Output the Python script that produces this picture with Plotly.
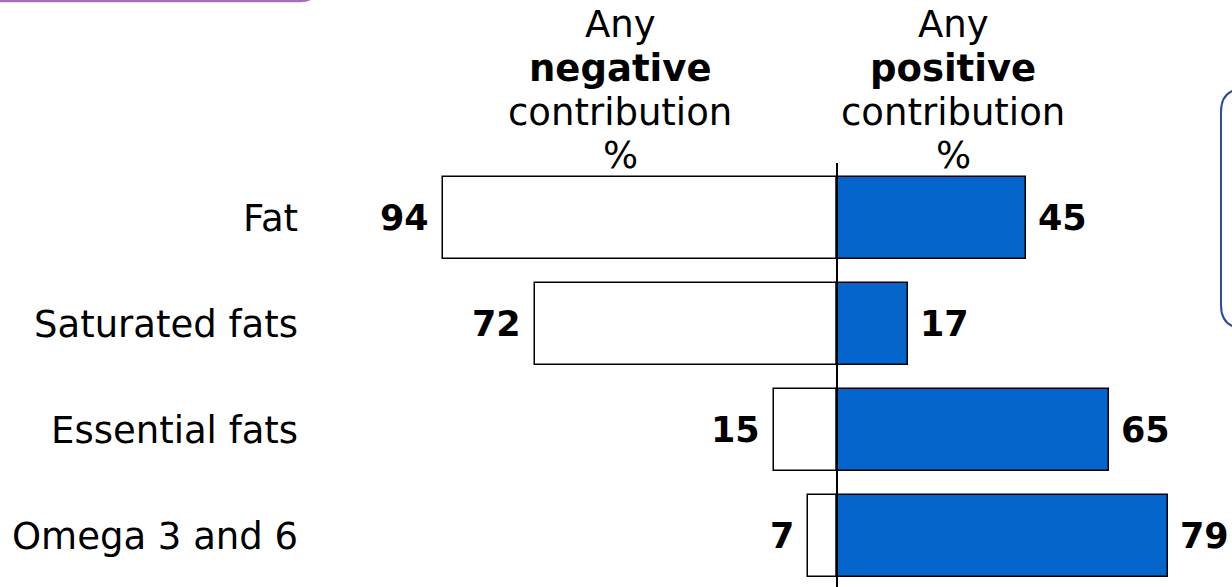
import plotly.graph_objects as go

categories = ["Fat", "Saturated fats", "Essential fats", "Omega 3 and 6"]
negative = [94, 72, 15, 7]
positive = [45, 17, 65, 79]
header_neg = ["Any", "<b>negative</b>", "contribution", "%"]
header_pos = ["Any", "<b>positive</b>", "contribution", "%"]

W, H = 1232, 587
FONT = "DejaVu Sans"

fig = go.Figure()
fig.add_trace(go.Bar(
    y=categories, x=[-v for v in negative], orientation="h",
    marker=dict(color="white", line=dict(color="black", width=1.5)),
    width=0.774, hoverinfo="skip", showlegend=False))
fig.add_trace(go.Bar(
    y=categories, x=positive, orientation="h",
    marker=dict(color="#0466CC", line=dict(color="black", width=1.5)),
    width=0.774, hoverinfo="skip", showlegend=False))

ann = []
for c, n, p in zip(categories, negative, positive):
    ann.append(dict(x=-n, y=c, xref="x", yref="y", text=f"<b>{n}</b>",
                    xanchor="right", yanchor="middle", xshift=-12, showarrow=False,
                    font=dict(family=FONT, size=35, color="black")))
    ann.append(dict(x=p, y=c, xref="x", yref="y", text=f"<b>{p}</b>",
                    xanchor="left", yanchor="middle", xshift=10, showarrow=False,
                    font=dict(family=FONT, size=35, color="black")))
    ann.append(dict(x=300 / W, y=c, xref="paper", yref="y", text=c,
                    xanchor="right", yanchor="middle", showarrow=False,
                    font=dict(family=FONT, size=37, color="black")))

HFS = 37
baselines = [37, 81, 125, 168]
for xc, lines in [(620, header_neg), (953, header_pos)]:
    for txt, bl in zip(lines, baselines):
        top = bl - HFS + 1
        ann.append(dict(x=xc / W, y=1 - top / H, xref="paper", yref="paper", text=txt,
                        xanchor="center", yanchor="top", showarrow=False,
                        font=dict(family=FONT, size=HFS, color="black")))

def px(x, y):
    return f"{x / W:.5f} {1 - y / H:.5f}"

shapes = [
    dict(type="line", xref="x", yref="paper", x0=0, x1=0, y0=0, y1=1 - 163 / H,
         line=dict(color="black", width=2), layer="above"),
    dict(type="path", xref="paper", yref="paper",
         path=f"M {px(-10, 1)} L {px(300, 1)} Q {px(318, 1)} {px(318, -17)}",
         line=dict(color="#A86CC0", width=2.5)),
    dict(type="path", xref="paper", yref="paper",
         path=f"M {px(1260, 89)} L {px(1244, 89)} Q {px(1221, 89)} {px(1221, 112)} "
              f"L {px(1221, 305)} Q {px(1221, 328)} {px(1244, 328)} L {px(1260, 328)}",
         line=dict(color="#2B4C9C", width=2)),
]

fig.update_layout(
    width=W, height=H, margin=dict(l=0, r=0, t=0, b=0),
    paper_bgcolor="white", plot_bgcolor="white",
    barmode="relative", bargap=0,
    xaxis=dict(range=[-837 / 4.19, (W - 837) / 4.19], visible=False, fixedrange=True),
    yaxis=dict(type="category", categoryarray=categories,
               range=[(H - 218) / 106, -218 / 106], visible=False, fixedrange=True),
    annotations=ann, shapes=shapes, showlegend=False,
)

fig.write_html("out.html")
